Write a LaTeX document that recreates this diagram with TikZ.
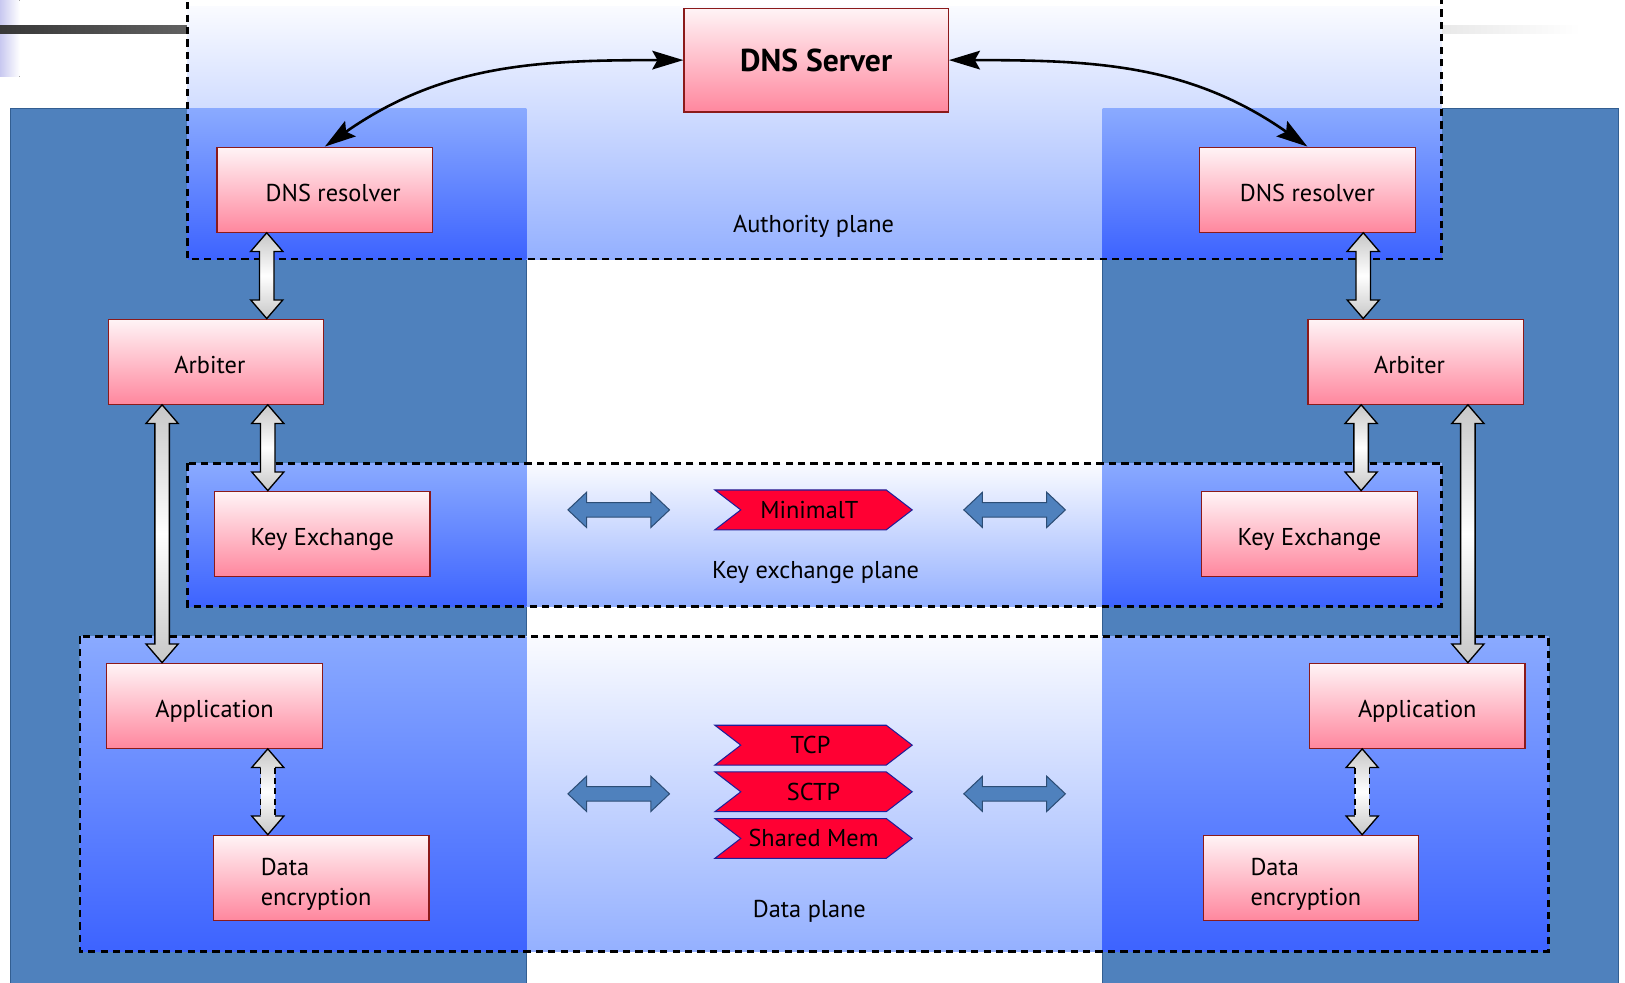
\documentclass[tikz,border=0pt]{standalone}
\usepackage{fontspec}
\setmainfont{PT Sans}
\usetikzlibrary{calc,arrows.meta}
\pgfdeclarelayer{bg}
\pgfdeclarelayer{mid}
\pgfsetlayers{bg,mid,main}
\definecolor{colblue}{HTML}{4F81BD}
\definecolor{coledge}{HTML}{335E91}
\definecolor{boxedge}{HTML}{8B1A1A}
\definecolor{boxtop}{HTML}{FFF4F6}
\definecolor{boxbot}{HTML}{FF879E}
\definecolor{chevred}{HTML}{FF0033}
\definecolor{chevedge}{HTML}{1F1F99}
\definecolor{midtop}{HTML}{FAFBFF}
\definecolor{midbot}{HTML}{94B0FF}
\definecolor{ovtop}{HTML}{8AAAFF}
\definecolor{ovbot}{HTML}{3D63FF}
\definecolor{lav}{HTML}{C8C8F0}
\definecolor{arredge}{HTML}{2C4D75}
\tikzset{
  boxbase/.style={draw=boxedge, line width=1.2pt, top color=boxtop, bottom color=boxbot,
    minimum width=208pt, minimum height=82pt, inner sep=0pt, font=\fontsize{23.5}{29}\selectfont},
  box/.style={boxbase, text height=22pt, text depth=0pt},
  twoline/.style={boxbase, align=left, text height=58pt, text depth=5pt},
  bigbox/.style={boxbase, minimum width=255pt, minimum height=100pt, font=\fontsize{30.5}{36}\selectfont\bfseries},
  lbl/.style={inner sep=0pt, font=\fontsize{23.5}{28}\selectfont},
  chevtxt/.style={minimum width=190pt, minimum height=38pt, inner sep=0pt, font=\fontsize{23.5}{28}\selectfont},
  chev/.style={fill=chevred, draw=chevedge, line width=1pt, line join=miter},
  column/.style={fill=colblue, draw=coledge, line width=1pt},
  midfill/.style={top color=midtop, bottom color=midbot},
  ovfill/.style={top color=ovtop, bottom color=ovbot},
  planeborder/.style={draw=black, line width=2.5pt, dash pattern=on 7pt off 5pt},
  garrow/.style={draw=black, line width=1.3pt, top color=black!22, bottom color=black!22, middle color=white, line join=miter},
  gfill/.style={top color=black!22, bottom color=black!22, middle color=white},
  gline/.style={draw=black, line width=1.3pt, line join=miter},
  curvearrow/.style={line width=2.5pt, {Stealth[length=30pt,width=18pt,inset=5pt]}-{Stealth[length=30pt,width=18pt,inset=5pt]}},
  harr/.pic={\draw[fill=colblue, draw=arredge, line width=1pt, line join=miter]
    (-49,0) -- (-31,17) -- (-31,7) -- (31,7) -- (31,17) -- (49,0) -- (31,-17) -- (31,-7) -- (-31,-7) -- (-31,-17) -- cycle;}
}
\newcommand\gvarrow[2]{%
  \draw[garrow] let \p1=#1, \p2=#2 in (\x1,\y1) -- (\x1+15.5pt,\y1-18pt) -- (\x1+7pt,\y1-18pt) -- (\x1+7pt,\y2+18pt) -- (\x1+15.5pt,\y2+18pt) -- (\x1,\y2) -- (\x1-15.5pt,\y2+18pt) -- (\x1-7pt,\y2+18pt) -- (\x1-7pt,\y1-18pt) -- (\x1-15.5pt,\y1-18pt) -- cycle;}
\newcommand\gvarrowd[2]{%
  \path[gfill] let \p1=#1, \p2=#2 in (\x1,\y1) -- (\x1+15.5pt,\y1-18pt) -- (\x1+7pt,\y1-18pt) -- (\x1+7pt,\y2+18pt) -- (\x1+15.5pt,\y2+18pt) -- (\x1,\y2) -- (\x1-15.5pt,\y2+18pt) -- (\x1-7pt,\y2+18pt) -- (\x1-7pt,\y1-18pt) -- (\x1-15.5pt,\y1-18pt) -- cycle;
  \draw[gline] let \p1=#1, \p2=#2 in (\x1-7pt,\y1-18pt) -- (\x1-15.5pt,\y1-18pt) -- (\x1,\y1) -- (\x1+15.5pt,\y1-18pt) -- (\x1+7pt,\y1-18pt) (\x1-7pt,\y2+18pt) -- (\x1-15.5pt,\y2+18pt) -- (\x1,\y2) -- (\x1+15.5pt,\y2+18pt) -- (\x1+7pt,\y2+18pt);
  \draw[gline, dash pattern=on 6pt off 4pt] let \p1=#1, \p2=#2 in (\x1-7pt,\y1-18pt) -- (\x1-7pt,\y2+18pt) (\x1+7pt,\y1-18pt) -- (\x1+7pt,\y2+18pt);}
\begin{document}
\begin{tikzpicture}[x=1pt,y=-1pt]
\useasboundingbox (0,0) rectangle (1568,948);
% background layer: columns and plane fills
\begin{pgfonlayer}{bg}
  \fill[left color=lav, right color=white] (0,0) rectangle (19,74);
  \fill[left color=black!78, right color=black!62] (0,25) rectangle (181,32);
  \fill[left color=black!9, right color=white] (1391,25) rectangle (1525,32);
  \path[column] (10,105) rectangle (508,960);
  \path[column] (1064,105) rectangle (1562,960);
  % authority plane
  \path[midfill] (181,6) rectangle (1391,250);
  \path[ovfill] (181,105) rectangle (508,250);
  \path[ovfill] (1064,105) rectangle (1391,250);
  % key exchange plane
  \path[midfill] (181,447) rectangle (1391,585);
  \path[ovfill] (181,447) rectangle (508,585);
  \path[ovfill] (1064,447) rectangle (1391,585);
  % data plane
  \path[midfill] (77,614) rectangle (1494,918);
  \path[ovfill] (77,614) rectangle (508,918);
  \path[ovfill] (1064,614) rectangle (1494,918);
\end{pgfonlayer}
\begin{pgfonlayer}{mid}
  \path[planeborder] (181,-10) rectangle (1391,250);
  \path[planeborder] (181,447) rectangle (1391,585);
  \path[planeborder] (77,614) rectangle (1494,918);
\end{pgfonlayer}
% boxes
\node[bigbox] (dns) at (787.5,58) {DNS Server};
\node[box] (resL) at (313.5,183) {\hspace*{16pt}DNS resolver};
\node[box] (resR) at (1261.5,183) {DNS resolver};
\node[box] (arbL) at (208.5,349) {Arbiter\hspace*{12pt}};
\node[box] (arbR) at (1366,349) {Arbiter\hspace*{12pt}};
\node[box] (keyL) at (311,515) {Key Exchange};
\node[box] (keyR) at (1263.5,515) {Key Exchange};
\node[box] (appL) at (207,681) {Application};
\node[box] (appR) at (1367.5,681) {Application};
\node[twoline] (datL) at (310,847) {Data\\encryption\hspace*{10pt}};
\node[twoline] (datR) at (1265,847) {Data\\encryption\hspace*{10pt}};
% plane labels
\node[lbl] (authlbl) at (785,218) {Authority plane};
\node[lbl] (keylbl) at (787,552) {Key exchange plane};
\node[lbl] (datalbl) at (781,879) {Data plane};
% chevrons
\node[chevtxt] (minT) at (785,492) {MinimalT\hspace*{8pt}};
\node[chevtxt] (tcp) at (785,719) {TCP\hspace*{6pt}};
\node[chevtxt] (sctp) at (785,764) {SCTP};
\node[chevtxt] (shm) at (785,809) {Shared Mem};
\begin{pgfonlayer}{mid}
  \foreach \n in {minT,tcp,sctp,shm}{
    \path[chev] (\n.north west) -- ($(\n.north east)+(-25,0)$) -- (\n.east) -- ($(\n.south east)+(-25,0)$) -- (\n.south west) -- ($(\n.west)+(25,0)$) -- cycle;}
\end{pgfonlayer}
% blue horizontal arrows
\pic at (597,492) {harr};
\pic at (979,492) {harr};
\pic at (597,766) {harr};
\pic at (979,766) {harr};
% curved arrows to DNS server
\draw[curvearrow] (resL.north) to[out=35, in=180] (dns.west);
\draw[curvearrow] (dns.east) to[out=0, in=145] (resR.north);
% grey vertical arrows, left
\coordinate (g1) at ($(resL.south west)+(48.5,0)$);
\coordinate (g2) at ($(arbL.south west)+(154.5,0)$);
\coordinate (g3) at ($(arbL.south west)+(52.5,0)$);
\coordinate (g4) at ($(appL.south west)+(156,0)$);
\gvarrow{(g1)}{(g1 |- arbL.north)}
\gvarrow{(g2)}{(g2 |- keyL.north)}
\gvarrow{(g3)}{(g3 |- appL.north)}
\gvarrowd{(g4)}{(g4 |- datL.north)}
% grey vertical arrows, right
\coordinate (g5) at ($(resR.south west)+(158.5,0)$);
\coordinate (g6) at ($(arbR.south west)+(52,0)$);
\coordinate (g7) at ($(arbR.south west)+(155,0)$);
\coordinate (g8) at ($(appR.south west)+(51.5,0)$);
\gvarrow{(g5)}{(g5 |- arbR.north)}
\gvarrow{(g6)}{(g6 |- keyR.north)}
\gvarrow{(g7)}{(g7 |- appR.north)}
\gvarrowd{(g8)}{(g8 |- datR.north)}
\end{tikzpicture}
\end{document}
